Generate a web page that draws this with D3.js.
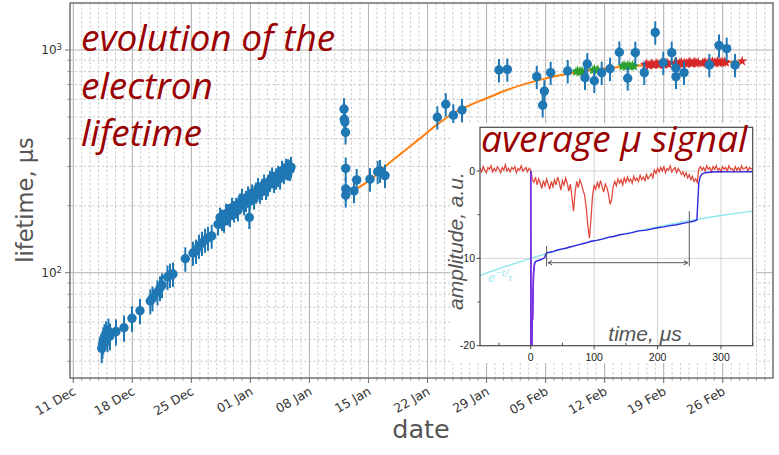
<!DOCTYPE html>
<html>
<head>
<meta charset="utf-8">
<script src="https://cdn.jsdelivr.net/npm/d3@7"></script>
<style>
  html, body { margin: 0; padding: 0; background: #fff; }
  svg { display: block; }
</style>
</head>
<body>
<svg id="chart" width="779" height="455"></svg>
<script>
// ---------- electron lifetime measurements (days counted from 11 Dec 2017) ----------
const blueDay = [
  3.37, 3.46, 3.56, 3.70, 3.88, 4.05, 4.17, 4.35, 5.06, 6.01, 6.96, 7.91, 9.13, 9.39,
  9.98, 10.28, 10.52, 11.17, 11.47, 11.82, 13.28, 14.19, 14.55, 14.90, 15.26, 15.62, 15.97, 16.41,
  17.16, 17.40, 17.63, 17.87, 18.11, 18.35, 18.58, 18.82, 19.06, 19.30, 19.53, 19.77, 20.01,
  20.24, 20.48, 20.72, 20.87, 20.96, 21.19, 21.43, 21.67, 21.90, 22.14, 22.38, 22.62, 22.85,
  23.09, 23.33, 23.57, 23.80, 24.04, 24.28, 24.52, 24.75, 24.99, 25.23, 25.46, 25.70, 25.81,
  32.10, 32.13, 32.20, 32.28, 32.30, 32.30, 32.30, 33.28, 33.60, 35.18, 36.09, 36.37, 36.96,
  43.16, 44.16, 45.06, 46.09, 50.47, 51.46, 54.95, 55.85, 55.65, 56.60, 58.62, 60.67, 60.94,
  61.77, 62.65, 63.64, 64.74, 65.73, 66.64, 67.70, 69.00, 69.95, 70.95, 71.43, 71.46, 72.41,
  75.41, 76.56, 77.47, 78.46
];
const blueLife = [
  45.7, 47.8, 49.9, 51.5, 53.1, 50.9, 54.7, 52.0, 54.4, 56.6, 62.4, 67.5, 74.6, 76.9,
  81.9, 85.4, 88.0, 95.6, 97.6, 98.7, 115.5, 122.6, 125.1, 131.8, 135.9, 140.2, 143.1, 146.1,
  165, 177, 173, 170, 184, 183, 180, 196, 189, 196, 191, 205, 215,
  203, 210, 220, 177, 215, 225, 215, 229, 240, 229, 238, 249, 238,
  247, 259, 268, 256, 265, 272, 265, 287, 280, 293, 291, 290, 298,
  543, 489, 476, 427, 294, 238, 223, 233, 261, 263, 284, 287, 273,
  499, 571, 510, 538, 813, 818, 759, 654, 565, 791, 805, 751, 865,
  728, 791, 824, 977, 747, 973, 791, 1200, 877, 973, 830, 759, 791,
  857, 1049, 1014, 857
];
const blueErr = [
  6.5, 6.8, 7.0, 7.2, 7.4, 7.0, 7.5, 7.2, 7.3, 7.6, 8.2, 8.8, 9.6, 9.9,
  10.5, 10.9, 11.2, 12.1, 12.3, 12.4, 14.5, 15.3, 15.6, 16.4, 16.9, 17.4, 17.7, 18.0,
  18, 19, 19, 19, 20, 20, 20, 21, 21, 21, 21, 22, 23,
  22, 23, 24, 20, 23, 24, 23, 25, 26, 25, 26, 27, 26,
  27, 28, 29, 28, 29, 30, 29, 31, 30, 32, 32, 32, 33,
  65, 59, 57, 51, 35, 29, 27, 28, 31, 32, 34, 34, 33,
  60, 69, 61, 65, 98, 98, 91, 78, 68, 95, 97, 90, 104,
  87, 95, 99, 117, 90, 117, 95, 144, 105, 117, 100, 91, 95,
  103, 126, 122, 103
];

// fitted saturation curve
const fitDay  = [33.67, 35.18, 37.16, 39.13, 41.11, 43.09, 45.06, 47.04, 49.02, 51.39, 54.54, 58.50, 62.45, 66.40, 70.36, 74.31, 79.05];
const fitLife = [239, 261, 304, 349, 401, 461, 520, 566, 607, 661, 721, 780, 822, 848, 865, 877, 886];

// online-monitor values (green) and continuous monitor values (red)
const greenDay  = [59.6, 59.8, 60.0, 60.2, 60.4, 61.6, 61.8, 62.0, 62.2, 65.1, 65.3, 65.5, 65.7, 65.9, 66.1, 66.3, 66.5];
const greenLife = [798, 806, 795, 802, 800, 812, 818, 808, 815, 845, 852, 840, 855, 848, 843, 851, 846];
const redDay = [
  67.8, 68.0, 68.2, 68.4, 68.6, 68.8, 69.0, 69.2, 69.4, 69.6, 69.8, 70.0, 70.2, 70.4, 70.6,
  71.3, 71.5, 71.7, 71.9, 72.1, 72.3, 72.5, 72.7, 72.9, 73.1, 73.3, 73.5, 73.7, 73.9, 74.1,
  74.6, 74.8, 75.0, 75.2, 75.4, 75.6, 75.8, 76.0, 76.2, 76.4, 76.6, 76.8, 77.0, 77.2, 77.4, 79.3
];
const redLife = [
  858, 866, 852, 861, 869, 855, 863, 871, 858, 866, 874, 860, 868, 876, 862,
  870, 878, 864, 872, 880, 866, 874, 869, 877, 883, 868, 876, 884, 871, 879,
  873, 881, 875, 868, 884, 878, 886, 872, 880, 888, 875, 883, 877, 885, 879, 891
];

// axis ticks
const yMajorTicks = [100, 1000];
const yTickExp = ["2", "3"];

// ---------- averaged muon signal (inset) ----------
// scope trace sampled every 2.5 us from -80 us to 350 us
const sigStart = -80, sigEnd = 350, sigStep = 2.5;
const rawSignal = [
  0.3, -0.1, 0.5, 0.1, -0.2, 0.4, 0.2, 0.6, -0.1, 0.3,
  0.0, 0.5, 0.2, -0.2, 0.4, 0.1, 0.7, 0.0, 0.3, -0.1,
  0.4, 0.2, 0.5, -0.2, 0.3, 0.1, 0.6, 0.0, 0.2, 0.4,
  -0.1, 0.3, 0.1,
  -1.0, -1.3, -0.7, -1.6, -0.9, -1.4, -2.0, -1.1, -1.7, -0.9,
  -1.5, -2.1, -1.2, -1.8, -1.0, -1.6, -0.7, -1.3, -2.2, -1.1,
  -1.6, -0.8, -1.4, -2.3, -1.5, -3.0, -4.6, -2.4, -1.2, -1.9,
  -1.0, -1.5, -2.2, -2.8, -4.2, -6.2, -7.7, -5.5, -2.8, -1.6,
  -2.1, -1.3, -1.9, -1.1, -1.8, -2.4, -1.5, -1.9, -2.6, -3.8,
  -3.3, -1.8, -1.2, -1.7, -0.9, -1.4, -1.0, -1.6, -0.8, -1.3,
  -0.7, -1.2, -0.9, -1.4, -0.6, -1.1, -0.8, -1.2, -0.5, -1.0,
  -0.7, -1.1, -0.4, -0.9, -0.6, -0.3, -0.8, 0.1, -0.3, 0.3,
  -0.1, 0.4, 0.0, 0.5, -0.2, 0.3, 0.1, 0.6, -0.1, 0.2,
  0.4, -0.2, 0.3, 0.0, -0.4, -0.1, -0.6, -0.2, -0.8, -0.4,
  -1.0, -0.6, -1.2, -0.9, -1.3,
  0.2, 0.5, 0.1, 0.4, 0.0, 0.6, 0.2, 0.4, -0.1, 0.5,
  0.2, 0.6, 0.1, 0.3, -0.1, 0.5, 0.2, 0.4, 0.0, 0.6,
  0.2, 0.3, -0.1, 0.5, 0.1, 0.4, 0.0, 0.6, 0.2, 0.3,
  0.5, 0.0, 0.4, 0.2, 0.3
];
// averaged drift signal
const avgT = [0, 0.3, 1.6, 2.2, 3.0, 3.6, 4.5, 6, 8, 12, 18, 22, 24, 26, 30, 36, 42, 48, 55, 62,
  70, 78, 86, 95, 104, 113, 122, 131, 140, 150, 160, 170, 180, 190, 200, 210, 220, 230, 240,
  250, 257, 262, 263.5, 265, 267, 270, 275, 285, 300, 320, 350];
const avgV = [0, -21, -21, -17.2, -16.9, -14.0, -11.6, -10.6, -10.35, -10.25, -10.1, -9.9, -9.5,
  -9.35, -9.3, -9.2, -9.05, -8.95, -8.85, -8.7, -8.55, -8.4, -8.25, -8.05, -7.95, -7.8, -7.6,
  -7.5, -7.3, -7.2, -7.05, -6.85, -6.8, -6.65, -6.5, -6.4, -6.25, -6.15, -6.0, -5.85, -5.75,
  -5.6, -3.5, -1.4, -0.7, -0.35, -0.2, -0.12, -0.08, -0.1, -0.08];
// exponential attenuation fit
const expT = [-80, 0, 100, 200, 300, 350];
const expV = [-11.95, -10.0, -8.0, -6.4, -5.1, -4.6];
// analysis window markers
const windowT = [25, 250];
const windowTop = [-8.6, -4.6];
const windowBottom = -10.9;
const windowArrowV = -10.5;
const insetXTicks = [0, 100, 200, 300];
const insetXMinor = [-50, 50, 150, 250, 350];
const insetYTicks = [0, -10, -20];
const insetYMinor = [-5, -15];

// ---------- drawing ----------
const DAY = 864e5;
const day0 = Date.UTC(2017, 11, 11);
const toDate = d => new Date(day0 + d * DAY);

const svg = d3.select("#chart");
const plot = { left: 70, right: 773, top: 3, bottom: 378 };

const x = d3.scaleUtc().domain([toDate(-0.39), toDate(82.96)]).range([plot.left, plot.right]);
const y = d3.scaleLog().domain([33.66, 1626]).range([plot.bottom, plot.top]);

const gGrid = svg.append("g");
// minor grid: daily verticals, 2..9 x decade horizontals
const days = d3.utcDay.range(d3.utcDay.ceil(x.domain()[0]), x.domain()[1]);
const mondays = d3.utcMonday.range(toDate(0), toDate(80));
gGrid.selectAll(".vmin").data(days).join("line")
  .attr("x1", d => x(d)).attr("x2", d => x(d))
  .attr("y1", plot.top).attr("y2", plot.bottom)
  .attr("stroke", "#c0c0c0").attr("stroke-width", 0.8).attr("stroke-dasharray", "2.5,2");
const yMinor = [];
[10, 100, 1000].forEach(dec => d3.range(2, 10).forEach(k => {
  const v = k * dec; if (v > y.domain()[0] && v < y.domain()[1]) yMinor.push(v);
}));
gGrid.selectAll(".hmin").data(yMinor).join("line")
  .attr("x1", plot.left).attr("x2", plot.right)
  .attr("y1", d => y(d)).attr("y2", d => y(d))
  .attr("stroke", "#c0c0c0").attr("stroke-width", 0.8).attr("stroke-dasharray", "2.5,2");
gGrid.selectAll(".vmaj").data(mondays).join("line")
  .attr("x1", d => x(d)).attr("x2", d => x(d))
  .attr("y1", plot.top).attr("y2", plot.bottom)
  .attr("stroke", "#b4b4b4").attr("stroke-width", 1);
gGrid.selectAll(".hmaj").data(yMajorTicks).join("line")
  .attr("x1", plot.left).attr("x2", plot.right)
  .attr("y1", d => y(d)).attr("y2", d => y(d))
  .attr("stroke", "#b4b4b4").attr("stroke-width", 1);

// frame
svg.append("rect").attr("x", plot.left).attr("y", plot.top)
  .attr("width", plot.right - plot.left).attr("height", plot.bottom - plot.top)
  .attr("fill", "none").attr("stroke", "#707070").attr("stroke-width", 1.5);

// x ticks and labels
const gx = svg.append("g");
gx.selectAll(".tmin").data(days).join("line")
  .attr("x1", d => x(d)).attr("x2", d => x(d))
  .attr("y1", plot.bottom).attr("y2", plot.bottom + 2.5)
  .attr("stroke", "#707070").attr("stroke-width", 0.8);
gx.selectAll(".tmaj").data(mondays).join("line")
  .attr("x1", d => x(d)).attr("x2", d => x(d))
  .attr("y1", plot.bottom).attr("y2", plot.bottom + 5)
  .attr("stroke", "#707070").attr("stroke-width", 1);
const fmt = d3.utcFormat("%d %b");
gx.selectAll(".tlab").data(mondays).join("text")
  .attr("transform", d => `translate(${x(d) - 1},${plot.bottom + 8}) rotate(-30)`)
  .attr("text-anchor", "end").attr("dy", "0.71em")
  .attr("font-family", "DejaVu Sans").attr("font-size", 12.5).attr("fill", "#333")
  .text(d => fmt(d));

// y ticks and labels
const gy = svg.append("g");
gy.selectAll(".ymin").data(yMinor).join("line")
  .attr("x1", plot.left - 2.5).attr("x2", plot.left)
  .attr("y1", d => y(d)).attr("y2", d => y(d))
  .attr("stroke", "#707070").attr("stroke-width", 0.8);
gy.selectAll(".ymaj").data(yMajorTicks).join("line")
  .attr("x1", plot.left - 5).attr("x2", plot.left)
  .attr("y1", d => y(d)).attr("y2", d => y(d))
  .attr("stroke", "#707070").attr("stroke-width", 1);
const ylab = gy.selectAll(".ylab").data(yMajorTicks).join("text")
  .attr("x", plot.left - 8).attr("y", d => y(d)).attr("dy", "0.35em")
  .attr("text-anchor", "end")
  .attr("font-family", "DejaVu Sans").attr("font-size", 12).attr("fill", "#333");
ylab.append("tspan").text("10");
ylab.append("tspan").attr("dy", "-0.45em").attr("font-size", 8.5).text((d, i) => yTickExp[i]);

// axis titles
svg.append("text").attr("transform", "translate(33,200) rotate(-90)")
  .attr("text-anchor", "middle").attr("font-family", "DejaVu Sans")
  .attr("font-size", 22.5).attr("fill", "#555").text("lifetime, μs");
svg.append("text").attr("x", 421).attr("y", 438).attr("text-anchor", "middle")
  .attr("font-family", "DejaVu Sans").attr("font-size", 25.5).attr("fill", "#555").text("date");

// ---------- data ----------
const gData = svg.append("g");
const fitPts = fitDay.map((d, i) => [x(toDate(d)), y(fitLife[i])]);
gData.append("path").attr("d", d3.line().curve(d3.curveMonotoneX)(fitPts))
  .attr("fill", "none").attr("stroke", "#ff7f0e").attr("stroke-width", 2);

const star = d3.symbol().type(d3.symbolStar).size(34)();
gData.selectAll(".gs").data(greenDay).join("path")
  .attr("d", star).attr("fill", "#2ca02c")
  .attr("transform", (d, i) => `translate(${x(toDate(d))},${y(greenLife[i])})`);
gData.selectAll(".rs").data(redDay).join("path")
  .attr("d", star).attr("fill", "#d62728")
  .attr("transform", (d, i) => `translate(${x(toDate(d))},${y(redLife[i])})`);

const pts = blueDay.map((d, i) => ({ d, v: blueLife[i], e: blueErr[i] }));
gData.selectAll(".eb").data(pts).join("line")
  .attr("x1", p => x(toDate(p.d))).attr("x2", p => x(toDate(p.d)))
  .attr("y1", p => y(p.v + p.e)).attr("y2", p => y(p.v - p.e))
  .attr("stroke", "#1f77b4").attr("stroke-width", 2);
gData.selectAll(".pt").data(pts).join("circle")
  .attr("cx", p => x(toDate(p.d))).attr("cy", p => y(p.v)).attr("r", 4.7)
  .attr("fill", "#1f77b4");

// ---------- titles ----------
const titleStyle = sel => sel.attr("font-family", "'Open Sans'").attr("font-style", "italic")
  .attr("font-size", 37).attr("fill", "#9b0000");
["evolution of the", "electron", "lifetime"].forEach((t, i) => {
  svg.append("text").attr("x", 81).attr("y", 51 + i * 47.7).text(t).call(titleStyle);
});

// ---------- inset ----------
const inset = { left: 480, right: 752.7, top: 127.3, bottom: 345.7 };
const ix = d3.scaleLinear().domain([-80, 350]).range([inset.left, inset.right]);
const iy = d3.scaleLinear().domain([-20, 5]).range([inset.bottom, inset.top]);
const gi = svg.append("g");
gi.append("rect").attr("x", 451).attr("y", 123).attr("width", 305).attr("height", 240).attr("fill", "#fff");

gi.append("clipPath").attr("id", "insetClip").append("rect")
  .attr("x", inset.left).attr("y", inset.top)
  .attr("width", inset.right - inset.left).attr("height", inset.bottom - inset.top);

// inset grid
gi.selectAll(".igx").data(insetXTicks.filter(t => t > 0)).join("line")
  .attr("x1", d => ix(d)).attr("x2", d => ix(d)).attr("y1", inset.top).attr("y2", inset.bottom)
  .attr("stroke", "#d4d4d4").attr("stroke-width", 1);
gi.selectAll(".igy").data(insetYTicks.filter(t => t > -20)).join("line")
  .attr("x1", inset.left).attr("x2", inset.right).attr("y1", d => iy(d)).attr("y2", d => iy(d))
  .attr("stroke", "#d4d4d4").attr("stroke-width", 1);

const gTr = gi.append("g").attr("clip-path", "url(#insetClip)");
const sigT = d3.range(sigStart, sigEnd + 0.01, sigStep);
gTr.append("path")
  .attr("d", d3.line()(sigT.map((t, i) => [ix(t), iy(rawSignal[i])])))
  .attr("fill", "none").attr("stroke", "#e0463a").attr("stroke-width", 1.25);
gTr.append("path")
  .attr("d", d3.line().curve(d3.curveMonotoneX)(expT.map((t, i) => [ix(t), iy(expV[i])])))
  .attr("fill", "none").attr("stroke", "#8ae8f0").attr("stroke-width", 1.4);
const avgPts = avgT.map((t, i) => [ix(t), iy(avgV[i])]);
gTr.append("path").attr("d", d3.line()(avgPts))
  .attr("fill", "none").attr("stroke", "#3326e0").attr("stroke-width", 1.4);
gTr.append("path").attr("d", d3.line()(avgPts.filter((p, i) => avgT[i] <= 6)))
  .attr("fill", "none").attr("stroke", "#7a2ee0").attr("stroke-width", 1.6);

// analysis window
const gw = gi.append("g").attr("stroke", "#555").attr("stroke-width", 1).attr("fill", "none");
windowT.forEach((t, i) => {
  gw.append("line").attr("x1", ix(t)).attr("x2", ix(t))
    .attr("y1", iy(windowTop[i])).attr("y2", iy(windowBottom));
});
const ay = iy(windowArrowV);
const a0 = ix(windowT[0]) + 1.5, a1 = ix(windowT[1]) - 1.5;
gw.append("line").attr("x1", a0).attr("x2", a1).attr("y1", ay).attr("y2", ay);
gw.append("path").attr("d", `M${a0 + 4},${ay - 2.2}L${a0},${ay}L${a0 + 4},${ay + 2.2}`);
gw.append("path").attr("d", `M${a1 - 4},${ay - 2.2}L${a1},${ay}L${a1 - 4},${ay + 2.2}`);

// exponent label
const el = gi.append("text").attr("x", ix(-67)).attr("y", iy(-12.7))
  .attr("font-family", "Liberation Serif").attr("font-style", "italic")
  .attr("font-size", 15).attr("fill", "#90e4ec");
el.append("tspan").text("e");
el.append("tspan").attr("dy", -6).attr("font-size", 10.5).text("−t");
el.append("tspan").attr("dy", 1.5).attr("font-size", 13).text("/");
el.append("tspan").attr("dy", 3.5).attr("font-size", 10.5).text("τ");

// inset frame, ticks, labels
gi.append("rect").attr("x", inset.left).attr("y", inset.top)
  .attr("width", inset.right - inset.left).attr("height", inset.bottom - inset.top)
  .attr("fill", "none").attr("stroke", "#4a4a4a").attr("stroke-width", 1.2);
gi.selectAll(".ixt").data(insetXTicks).join("line")
  .attr("x1", d => ix(d)).attr("x2", d => ix(d)).attr("y1", inset.bottom).attr("y2", inset.bottom + 3.5)
  .attr("stroke", "#4a4a4a");
gi.selectAll(".ixm").data(insetXMinor).join("line")
  .attr("x1", d => ix(d)).attr("x2", d => ix(d)).attr("y1", inset.bottom).attr("y2", inset.bottom - 3)
  .attr("stroke", "#4a4a4a");
gi.selectAll(".iyt").data(insetYTicks).join("line")
  .attr("x1", inset.left - 3.5).attr("x2", inset.left).attr("y1", d => iy(d)).attr("y2", d => iy(d))
  .attr("stroke", "#4a4a4a");
gi.selectAll(".iym").data(insetYMinor).join("line")
  .attr("x1", inset.left - 2.5).attr("x2", inset.left).attr("y1", d => iy(d)).attr("y2", d => iy(d))
  .attr("stroke", "#4a4a4a");
gi.selectAll(".ixl").data(insetXTicks).join("text")
  .attr("x", d => ix(d)).attr("y", inset.bottom + 15).attr("text-anchor", "middle")
  .attr("font-family", "Liberation Sans").attr("font-size", 10.5).attr("fill", "#222").text(d => d);
gi.selectAll(".iyl").data(insetYTicks).join("text")
  .attr("x", inset.left - 5).attr("y", d => iy(d)).attr("dy", "0.35em").attr("text-anchor", "end")
  .attr("font-family", "Liberation Sans").attr("font-size", 10.5).attr("fill", "#222").text(d => d);

gi.append("text").attr("transform", `translate(463,241) rotate(-90)`)
  .attr("text-anchor", "middle").attr("font-family", "Liberation Sans").attr("font-style", "italic")
  .attr("font-size", 21).attr("fill", "#555")
  .attr("stroke", "#fff").attr("stroke-width", 3).attr("paint-order", "stroke")
  .text("amplitude, a.u.");
gi.append("text").attr("x", 645).attr("y", 341).attr("text-anchor", "middle")
  .attr("font-family", "Liberation Sans").attr("font-style", "italic")
  .attr("font-size", 21).attr("fill", "#555").text("time, μs");
gi.append("text").attr("x", 481).attr("y", 152).text("average μ signal").call(titleStyle);
</script>
</body>
</html>
